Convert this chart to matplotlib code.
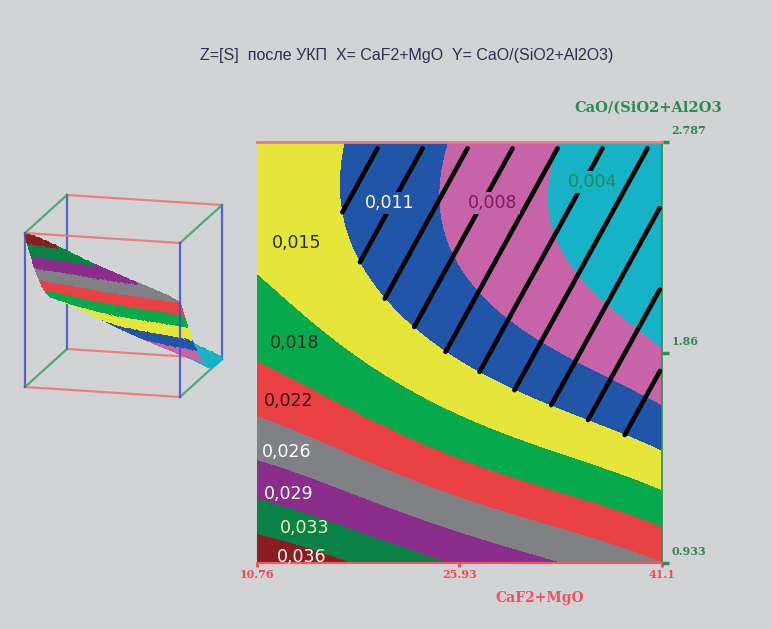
import numpy as np
import matplotlib
matplotlib.use("Agg")
import matplotlib.pyplot as plt
from matplotlib.colors import ListedColormap, BoundaryNorm

# factor ranges and ticks
x_min, x_max = 10.76, 41.1
y_min, y_max = 0.933, 2.787
x_ticks = [10.76, 25.93, 41.1]
x_tick_labels = ["10.76", "25.93", "41.1"]
y_ticks = [0.933, 1.86, 2.787]
y_tick_labels = ["0.933", "1.86", "2.787"]

# band borders for Z=[S] and the band captions
levels = [0.006, 0.0095, 0.013, 0.0165, 0.020, 0.0235, 0.027, 0.0305, 0.034]
band_labels = ["0,004", "0,008", "0,011", "0,015", "0,018",
               "0,022", "0,026", "0,029", "0,033", "0,036"]
band_colors = ["#16b3c6", "#c764a8", "#2155a8", "#e5e53a", "#06a94b",
               "#ea4145", "#7f8184", "#8b2d8b", "#0b8245", "#8b1d22"]
label_x = [35.93, 28.44, 20.72, 13.76, 13.61, 13.16, 13.01, 13.16, 14.36, 14.13]
label_y = [2.611, 2.518, 2.518, 2.342, 1.902, 1.646, 1.422, 1.237, 1.087, 0.959]
label_colors = ["#1d8a5c", "#7a1a5a", "white", "#2a2a10", "#103020",
                "#3a0a0a", "white", "white", "#f5f0c0", "white"]

# points read along every band border (X, Y)
b1_x = [32.71, 32.49, 32.93, 34.21, 36.46, 38.70, 41.10]
b1_y = [2.787, 2.620, 2.399, 2.223, 2.104, 2.003, 1.884]
b2_x = [25.44, 24.92, 24.47, 24.69, 26.19, 29.19, 31.21, 34.73, 37.73, 41.10]
b2_y = [2.787, 2.664, 2.545, 2.355, 2.192, 2.016, 1.950, 1.827, 1.739, 1.620]
b3_x = [17.73, 16.75, 17.50, 19.38, 21.10, 22.75, 25.22, 27.69, 30.24, 33.23, 36.23, 38.70, 41.10]
b3_y = [2.787, 2.545, 2.342, 2.166, 2.060, 1.946, 1.805, 1.761, 1.695, 1.598, 1.510, 1.453, 1.409]
b4_x = [10.76, 11.36, 12.11, 13.61, 15.63, 17.58, 19.08, 25.22, 27.69, 30.24, 32.71, 35.18, 37.73, 41.10]
b4_y = [2.237, 2.192, 2.148, 2.060, 1.946, 1.840, 1.770, 1.598, 1.554, 1.505, 1.453, 1.400, 1.343, 1.246]
b5_x = [10.76, 13.08, 15.63, 18.10, 25.22, 27.69, 30.24, 32.71, 35.18, 37.73, 41.10]
b5_y = [1.818, 1.752, 1.686, 1.620, 1.395, 1.351, 1.307, 1.263, 1.219, 1.166, 1.092]
b6_x = [10.76, 15.63, 25.22, 30.24, 35.18, 41.10]
b6_y = [1.572, 1.475, 1.219, 1.131, 1.034, 0.946]
b7_x = [10.76, 15.63, 25.22, 30.24, 33.08]
b7_y = [1.373, 1.299, 1.070, 0.977, 0.933]
b8_x = [10.76, 15.63, 20.57, 25.74]
b8_y = [1.202, 1.131, 1.056, 0.933]
b9_x = [10.76, 13.08, 15.63, 17.73]
b9_y = [1.056, 1.003, 0.955, 0.933]
# corner values
corner_x = [41.10, 10.76, 10.76]
corner_y = [2.787, 2.787, 0.933]
corner_z = [0.0025, 0.0150, 0.0375]

bx_all = [b1_x, b2_x, b3_x, b4_x, b5_x, b6_x, b7_x, b8_x, b9_x]
by_all = [b1_y, b2_y, b3_y, b4_y, b5_y, b6_y, b7_y, b8_y, b9_y]


def terms(u, v):
    return np.stack([np.ones_like(u), u, v, u * u, u * v, v * v,
                     u ** 3, u * u * v, u * v * v, v ** 3,
                     u ** 4, u ** 3 * v, u * u * v * v, u * v ** 3, v ** 4], axis=-1)


px = np.concatenate([np.array(a) for a in bx_all] + [np.array(corner_x)])
py = np.concatenate([np.array(a) for a in by_all] + [np.array(corner_y)])
pz = np.concatenate([np.full(len(a), lv) for a, lv in zip(bx_all, levels)] + [np.array(corner_z)])
pu = (px - x_min) / (x_max - x_min)
pv = (py - y_min) / (y_max - y_min)
coef = np.linalg.lstsq(terms(pu, pv), pz, rcond=None)[0]

U, V = np.meshgrid(np.linspace(0, 1, 300), np.linspace(0, 1, 300))
Z = terms(U, V) @ coef
X = x_min + U * (x_max - x_min)
Y = y_min + V * (y_max - y_min)
bounds = [-1] + levels + [1]

fig = plt.figure(figsize=(7.72, 6.29), dpi=100)
fig.patch.set_facecolor("#d2d3d5")

fig.text(0.527, 0.912, "Z=[S]  после УКП  X= CaF2+MgO  Y= CaO/(SiO2+Al2O3)",
         ha="center", va="center", fontsize=11.5, color="#2b3050",
         family="Liberation Sans")

# ---- 3D sketch on the left (drawn in pixel space) ----
ins = fig.add_axes([0, 0, 1, 1])
ins.set_xlim(0, 772)
ins.set_ylim(629, 0)
ins.axis("off")
o = np.array([25, 387])
eu = np.array([155, 10])
ev = np.array([42, -38])
ew = np.array([0, -154])


def proj(a, b, c):
    return o + a * eu + b * ev + c * ew


def edge(p, q, col, z):
    p = proj(*p)
    q = proj(*q)
    ins.plot([p[0], q[0]], [p[1], q[1]], color=col, lw=1.6, zorder=z, alpha=0.85)


red_e, green_e, blue_e = "#f07272", "#3aa064", "#4050c4"
# back edges
edge((0, 1, 0), (1, 1, 0), red_e, 1)
edge((0, 1, 1), (1, 1, 1), red_e, 1)
edge((0, 1, 0), (0, 1, 1), blue_e, 1)
edge((1, 1, 0), (1, 1, 1), blue_e, 1)
for a in (0, 1):
    for c in (0, 1):
        edge((a, 0, c), (a, 1, c), green_e, 1)

# surface: back rows first so that the front covers them
n = 90
Us, Vs = np.meshgrid(np.linspace(0, 1, n), np.linspace(1, 0, n))
Zs = terms(Us, Vs) @ coef
Ws = (Zs - Zs.min()) / (Zs.max() - Zs.min())
SX = o[0] + eu[0] * Us + ev[0] * Vs + ew[0] * Ws
SY = o[1] + eu[1] * Us + ev[1] * Vs + ew[1] * Ws
Uc = 0.25 * (Us[:-1, :-1] + Us[1:, :-1] + Us[:-1, 1:] + Us[1:, 1:])
Vc = 0.25 * (Vs[:-1, :-1] + Vs[1:, :-1] + Vs[:-1, 1:] + Vs[1:, 1:])
Zc = terms(Uc, Vc) @ coef
ins.pcolormesh(SX, SY, Zc, cmap=ListedColormap(band_colors),
               norm=BoundaryNorm(bounds, len(band_colors)),
               shading="flat", edgecolors="face", linewidth=0.3, zorder=2)

# front edges
edge((0, 0, 0), (1, 0, 0), red_e, 3)
edge((0, 0, 1), (1, 0, 1), red_e, 3)
edge((0, 0, 0), (0, 0, 1), blue_e, 3)
edge((1, 0, 0), (1, 0, 1), blue_e, 3)

# ---- main contour map ----
ax = fig.add_axes([0.3329, 0.1049, 0.5246, 0.6693])
ax.contourf(X, Y, Z, levels=bounds, colors=band_colors, zorder=1)
ax.set_xlim(x_min, x_max)
ax.set_ylim(y_min, y_max)

# hatched area (Z below the blue/yellow border)
vv = np.linspace(0, 0.985, 500)
for k in range(10):
    u_top = (124 + 45 * k) / 405
    uu = u_top - 0.572 * (1 - vv)
    zz = terms(uu, vv) @ coef
    ok = (zz < levels[2]) & (uu >= 0) & (uu <= 0.995)
    xx = x_min + uu * (x_max - x_min)
    yy = y_min + vv * (y_max - y_min)
    ax.plot(np.where(ok, xx, np.nan), yy, color="black", lw=3.3,
            solid_capstyle="round", zorder=3)

for i in range(len(band_labels)):
    bb = None
    if i < 3:
        bb = dict(facecolor=band_colors[i], edgecolor="none", pad=1.5)
    ax.text(label_x[i], label_y[i], band_labels[i], ha="center", va="center",
            fontsize=12.5, color=label_colors[i], bbox=bb, zorder=4)

ax.spines["left"].set_visible(False)
ax.spines["top"].set_color("#f07878")
ax.spines["top"].set_linewidth(2)
ax.spines["bottom"].set_color("#f05a5a")
ax.spines["bottom"].set_linewidth(1.5)
ax.spines["right"].set_color("#2a9050")
ax.spines["right"].set_linewidth(1.2)

ax.set_xticks(x_ticks, labels=x_tick_labels)
ax.tick_params(axis="x", colors="#f04a55", length=3, width=2, pad=1, labelsize=8)
for t in ax.get_xticklabels():
    t.set_family("DejaVu Serif")
    t.set_fontweight("bold")
ax.yaxis.tick_right()
ax.set_yticks(y_ticks, labels=[])
ax.tick_params(axis="y", colors="#2a8a55", length=5, width=2.5)
for yt, lab in zip(y_ticks, y_tick_labels):
    ax.annotate(lab, xy=(1, yt), xycoords=("axes fraction", "data"),
                xytext=(7, 4), textcoords="offset points", ha="left", va="bottom",
                fontsize=8, color="#2a8a55", family="DejaVu Serif", fontweight="bold")

ax.text(0.699, -0.083, "CaF2+MgO", transform=ax.transAxes, ha="center", va="center",
        fontsize=10, color="#f05060", family="DejaVu Serif", fontweight="bold")
ax.text(0.965, 1.081, "CaO/(SiO2+Al2O3", transform=ax.transAxes, ha="center", va="center",
        fontsize=10.5, color="#2a8a55", family="DejaVu Serif", fontweight="bold")

fig.savefig("out.png", dpi=100, facecolor=fig.get_facecolor())
